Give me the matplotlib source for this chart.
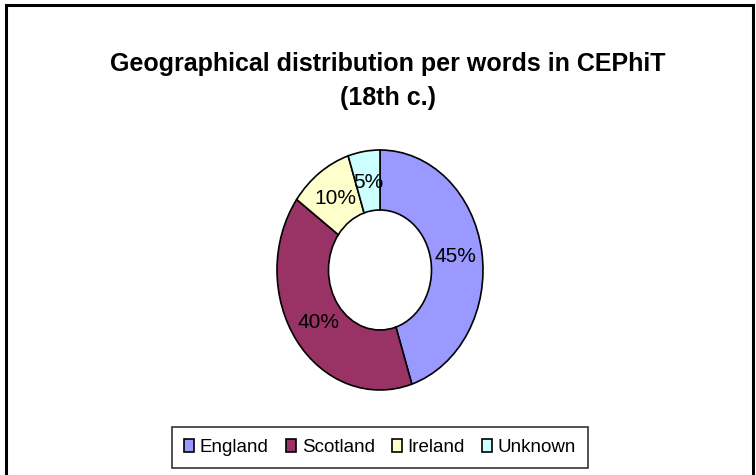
import matplotlib
matplotlib.use('Agg')
import matplotlib.pyplot as plt
from matplotlib.patches import Rectangle, Patch

plt.rcParams['font.family'] = ['Liberation Sans', 'DejaVu Sans']

regions = ['England', 'Scotland', 'Ireland', 'Unknown']
shares = [45, 40, 10, 5]
colours = ['#9999FF', '#993366', '#FFFFCC', '#CCFFFF']
title = 'Geographical distribution per words in CEPhiT\n(18th c.)'

W, H = 756, 475
fig = plt.figure(figsize=(W / 100, H / 100), dpi=100)

# outer chart border
fig.patches.append(Rectangle((6 / W, -0.05), 747 / W, 1.05 - 5 / H, transform=fig.transFigure,
                             fill=False, edgecolor='black', linewidth=2.2))

# donut is drawn a bit taller than wide, like the original
cx, cy, rx, ry = 380, 270, 103, 120
ax = fig.add_axes([(cx - rx) / W, 1 - (cy + ry) / H, 2 * rx / W, 2 * ry / H])
wedges, texts, autotexts = ax.pie(shares, colors=colours, startangle=90, counterclock=False,
                                  radius=1, autopct='%d%%', pctdistance=0.74,
                                  wedgeprops=dict(width=0.5, edgecolor='black', linewidth=1.2),
                                  textprops=dict(fontsize=15, color='black'))
ax.set_xlim(-1, 1)
ax.set_ylim(-1, 1)
ax.set_aspect('auto')
ax.axis('off')

fig.text(388 / W, 1 - 81 / H, title, ha='center', va='center', fontsize=18,
         fontweight='bold', linespacing=1.5)

handles = [Patch(facecolor=c, edgecolor='black', linewidth=1.2) for c in colours]
fig.legend(handles, regions, ncol=4, loc='center', bbox_to_anchor=(380 / W, 1 - 447.5 / H),
           fontsize=13.5, frameon=True, fancybox=False, edgecolor='black',
           handlelength=0.55, handleheight=0.7, handletextpad=0.3, columnspacing=0.9,
           borderpad=0.62).get_frame().set_linewidth(1.2)

fig.savefig('out.png', dpi=100)
